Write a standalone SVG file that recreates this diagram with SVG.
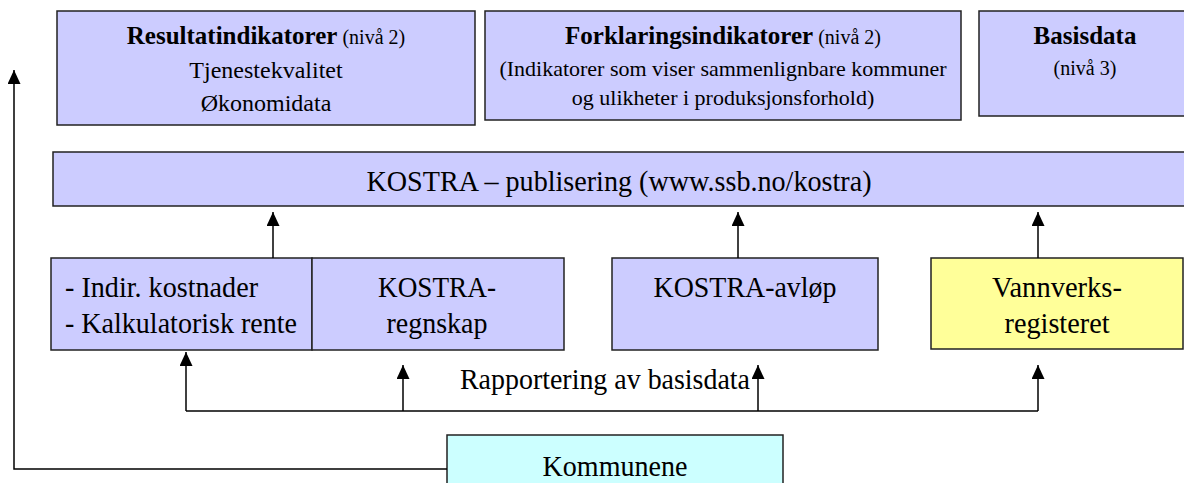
<svg xmlns="http://www.w3.org/2000/svg" width="1184" height="483" viewBox="0 0 1184 483">
<style>
.box{stroke:#222;stroke-width:1.5}
.lav{fill:#CCCCFF}
.yel{fill:#FFFF99}
.cya{fill:#CCFFFF}
text{font-family:"Liberation Serif","Times New Roman",serif;fill:#000}
.t30{font-size:30px}
.t24{font-size:24px}
.t22{font-size:22px}
.b{font-weight:bold;font-size:25px}
.s{font-size:20px;font-weight:normal}
.c{text-anchor:middle}
.ln{fill:none;stroke:#000;stroke-width:1.5}
</style>
<defs>
<marker id="ah" viewBox="0 0 14 13" refX="14" refY="6.5" markerWidth="14" markerHeight="13" markerUnits="userSpaceOnUse" orient="auto">
<path d="M0,0 L14,6.5 L0,13 z" fill="#000"/>
</marker>
</defs>
<rect width="1184" height="483" fill="#fff"/>
<g id="resultatindikatorer">
<rect class="box lav" x="57" y="11" width="418" height="114"/>
<text class="c t24" x="266" y="44"><tspan class="b">Resultatindikatorer</tspan><tspan class="s"> (nivå 2)</tspan></text>
<text class="c t24" x="266" y="78">Tjenestekvalitet</text>
<text class="c t24" x="266" y="111">Økonomidata</text>
</g>
<g id="forklaringsindikatorer">
<rect class="box lav" x="485" y="11" width="476" height="109"/>
<text class="c t24" x="723" y="44"><tspan class="b">Forklaringsindikatorer</tspan><tspan class="s"> (nivå 2)</tspan></text>
<text class="c t22" x="723" y="76">(Indikatorer som viser sammenlignbare kommuner</text>
<text class="c t22" x="723" y="105">og ulikheter i produksjonsforhold)</text>
</g>
<g id="basisdata">
<rect class="box lav" x="979" y="11" width="212" height="105"/>
<text class="c b" x="1085" y="44">Basisdata</text>
<text class="c s" x="1085" y="75">(nivå 3)</text>
</g>
<g id="publisering">
<rect class="box lav" x="53" y="152" width="1133" height="54"/>
<text class="c t30" x="619" y="191" textLength="505" lengthAdjust="spacingAndGlyphs">KOSTRA – publisering (www.ssb.no/kostra)</text>
</g>
<g id="indir">
<rect class="box lav" x="51" y="258" width="261" height="92"/>
<text class="t30" x="65" y="297" textLength="193" lengthAdjust="spacingAndGlyphs">- Indir. kostnader</text>
<text class="t30" x="65" y="333" textLength="232" lengthAdjust="spacingAndGlyphs">- Kalkulatorisk rente</text>
</g>
<g id="regnskap">
<rect class="box lav" x="312" y="258" width="252" height="92"/>
<text class="c t30" x="437" y="297" textLength="118" lengthAdjust="spacingAndGlyphs">KOSTRA-</text>
<text class="c t30" x="437" y="333" textLength="101" lengthAdjust="spacingAndGlyphs">regnskap</text>
</g>
<g id="avlop">
<rect class="box lav" x="612" y="258" width="266" height="92"/>
<text class="c t30" x="745" y="297" textLength="183" lengthAdjust="spacingAndGlyphs">KOSTRA-avløp</text>
</g>
<g id="vannverk">
<rect class="box yel" x="931" y="258" width="252" height="91"/>
<text class="c t30" x="1057" y="297" textLength="130" lengthAdjust="spacingAndGlyphs">Vannverks-</text>
<text class="c t30" x="1057" y="333" textLength="105" lengthAdjust="spacingAndGlyphs">registeret</text>
</g>
<g id="kommunene">
<rect class="box cya" x="447" y="435" width="336" height="60"/>
<text class="c t30" x="615" y="476" textLength="145" lengthAdjust="spacingAndGlyphs">Kommunene</text>
</g>
<g id="connectors">
<line class="ln" x1="273" y1="258" x2="273" y2="212" marker-end="url(#ah)"/>
<line class="ln" x1="738" y1="258" x2="738" y2="212" marker-end="url(#ah)"/>
<line class="ln" x1="1038" y1="258" x2="1038" y2="212" marker-end="url(#ah)"/>
<line class="ln" x1="186" y1="411" x2="1038" y2="411"/>
<line class="ln" x1="186" y1="411" x2="186" y2="352" marker-end="url(#ah)"/>
<line class="ln" x1="403" y1="411" x2="403" y2="365" marker-end="url(#ah)"/>
<line class="ln" x1="758" y1="411" x2="758" y2="365" marker-end="url(#ah)"/>
<line class="ln" x1="1038" y1="411" x2="1038" y2="365" marker-end="url(#ah)"/>
<polyline class="ln" points="447,469 14,469 14,70" marker-end="url(#ah)"/>
<text class="c t30" x="605" y="389" textLength="290" lengthAdjust="spacingAndGlyphs">Rapportering av basisdata</text>
</g>
</svg>
